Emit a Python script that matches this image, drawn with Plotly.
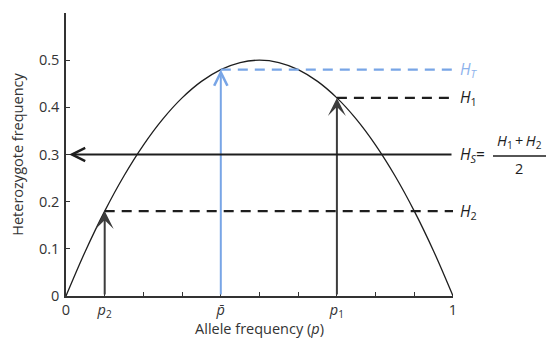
import plotly.graph_objects as go

# ---- data ----
p_curve = [0, 0.05, 0.1, 0.15, 0.2, 0.25, 0.3, 0.35, 0.4, 0.45, 0.5,
           0.55, 0.6, 0.65, 0.7, 0.75, 0.8, 0.85, 0.9, 0.95, 1.0]
h_curve = [0, 0.095, 0.18, 0.255, 0.32, 0.375, 0.42, 0.455, 0.48, 0.495, 0.5,
           0.495, 0.48, 0.455, 0.42, 0.375, 0.32, 0.255, 0.18, 0.095, 0]

p2, H2 = 0.1, 0.18
p1, H1 = 0.7, 0.42
p_bar, HT = 0.4, 0.48
HS = 0.30

x_tickvals = [0, 0.1, 0.2, 0.3, 0.4, 0.5, 0.6, 0.7, 0.8, 0.9, 1.0]
x_ticktext = ["0", "<i>p</i><sub>2</sub>", "", "", "<i>p\u0304</i>", "", "",
              "<i>p</i><sub>1</sub>", "", "", "1"]
y_tickvals = [0, 0.1, 0.2, 0.3, 0.4, 0.5, 0.6]
y_ticktext = ["0", "0.1", "0.2", "0.3", "0.4", "0.5", ""]

FONT = "Open Sans"
BLACK = "#1e1e1e"
GRAY = "#3c3c3c"
BLUE = "#78a5e6"
BLUE_TXT = "#8db2ec"
DASH = "10px,7px"

fig = go.Figure()

# parabola
fig.add_trace(go.Scatter(x=p_curve, y=h_curve, mode="lines",
                         line=dict(color=BLACK, width=1.3, shape="spline"),
                         hoverinfo="skip"))

# dashed horizontals
fig.add_trace(go.Scatter(x=[p_bar, 1.0], y=[HT, HT], mode="lines",
                         line=dict(color=BLUE, width=2.2, dash=DASH), hoverinfo="skip"))
fig.add_trace(go.Scatter(x=[p1, 1.0], y=[H1, H1], mode="lines",
                         line=dict(color=BLACK, width=2.2, dash=DASH), hoverinfo="skip"))
fig.add_trace(go.Scatter(x=[p2, 1.0], y=[H2, H2], mode="lines",
                         line=dict(color=BLACK, width=2.2, dash=DASH), hoverinfo="skip"))

annotations = []
# vertical arrows
for px, hy, col, head, sz in [(p2, H2, GRAY, 3, 1.5), (p1, H1, GRAY, 3, 1.5),
                              (p_bar, HT, BLUE, 5, 1.3)]:
    annotations.append(dict(x=px, y=hy, ax=px, ay=0, xref="x", yref="y",
                            axref="x", ayref="y", text="", showarrow=True,
                            arrowhead=head, arrowsize=sz,
                            arrowwidth=2, arrowcolor=col, standoff=0))
# H_S arrow pointing left
annotations.append(dict(x=0.008, y=HS, ax=1.0, ay=HS, xref="x", yref="y",
                        axref="x", ayref="y", text="", showarrow=True,
                        arrowhead=5, arrowsize=1.3, arrowwidth=2,
                        arrowcolor=BLACK, standoff=0))

# right-side labels (paper x: plot area spans px 66..453)
def px2paper(px):
    return (px - 66) / 387.0

def py2paper(py):
    return (296 - py) / 283.0

LSZ = 15.5
lab_font = dict(family=FONT, size=LSZ, color=BLACK)
annotations += [
    dict(x=px2paper(458), y=HT, xref="paper", yref="y", xanchor="left",
         text="<i>H</i><sub><i>T</i></sub>", showarrow=False,
         font=dict(family=FONT, size=LSZ, color=BLUE_TXT)),
    dict(x=px2paper(458), y=H1, xref="paper", yref="y", xanchor="left",
         text="<i>H</i><sub>1</sub>", showarrow=False, font=lab_font),
    dict(x=px2paper(458), y=H2, xref="paper", yref="y", xanchor="left",
         text="<i>H</i><sub>2</sub>", showarrow=False, font=lab_font),
    dict(x=px2paper(458), y=HS, xref="paper", yref="y", xanchor="left",
         text="<i>H</i><sub><i>S</i></sub>=", showarrow=False, font=lab_font),
    dict(x=px2paper(519), y=py2paper(141), xref="paper", yref="paper",
         xanchor="center", yanchor="middle",
         text="<i>H</i><sub>1</sub>\u2009+\u2009<i>H</i><sub>2</sub>", showarrow=False,
         font=dict(family=FONT, size=14.5, color=BLACK)),
    dict(x=px2paper(519), y=py2paper(168), xref="paper", yref="paper",
         xanchor="center", yanchor="middle",
         text="2", showarrow=False, font=dict(family=FONT, size=14.5, color=BLACK)),
]

shapes = [dict(type="line", xref="paper", yref="paper",
               x0=px2paper(493), x1=px2paper(546),
               y0=py2paper(156), y1=py2paper(156),
               line=dict(color=BLACK, width=1.3))]

fig.update_layout(
    width=548, height=344,
    margin=dict(l=66, r=95, t=13, b=48),
    paper_bgcolor="white", plot_bgcolor="white",
    showlegend=False,
    font=dict(family=FONT, size=14, color="#333333"),
    annotations=annotations, shapes=shapes,
    xaxis=dict(range=[0, 1], showgrid=False, zeroline=False, automargin=False,
               showline=True, linecolor="#333333", linewidth=1.5,
               ticks="inside", ticklen=4, tickwidth=1, tickcolor="#333333",
               tickmode="array", tickvals=x_tickvals, ticktext=x_ticktext,
               tickfont=dict(size=14.5), ticklabelstandoff=0,
               title=dict(text="Allele frequency (<i>p</i>)",
                          font=dict(size=14.5), standoff=4)),
    yaxis=dict(range=[0, 0.6], showgrid=False, zeroline=False, automargin=False,
               showline=True, linecolor="#333333", linewidth=1.5,
               ticks="inside", ticklen=4, tickwidth=1, tickcolor="#333333",
               tickmode="array", tickvals=y_tickvals, ticktext=y_ticktext,
               tickfont=dict(size=14.5), ticklabelstandoff=2,
               title=dict(text="Heterozygote frequency",
                          font=dict(size=14.5), standoff=12)),
)

# remove the browser's default 8px body margin so the figure fills the window
fig.write_html("out.html",
               config={"displayModeBar": False},
               post_script="document.body.style.margin='0';"
                           "document.body.style.overflow='hidden';")
